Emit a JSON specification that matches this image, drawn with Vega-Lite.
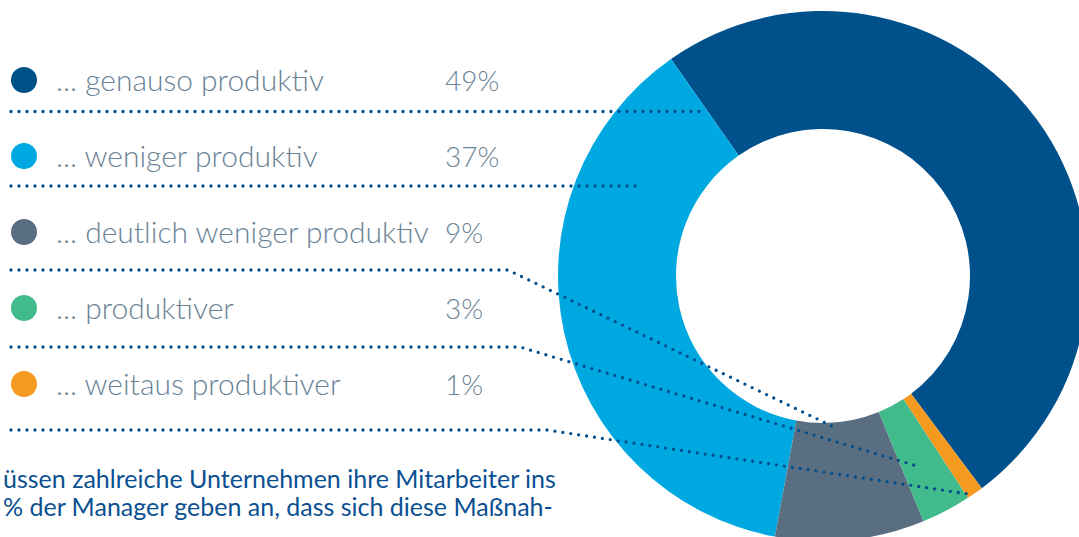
{
  "$schema": "https://vega.github.io/schema/vega-lite/v6.json",
  "width": 1079,
  "height": 537,
  "padding": 0,
  "autosize": {"type": "none"},
  "background": "#ffffff",
  "config": {"view": {"stroke": null}},
  "datasets": {
    "items": [
      {"category": "... genauso produktiv", "value": 49, "pct": "49%", "ord": 1},
      {"category": "... weniger produktiv", "value": 37, "pct": "37%", "ord": 5},
      {"category": "... deutlich weniger produktiv", "value": 9, "pct": "9%", "ord": 4},
      {"category": "... produktiver", "value": 3, "pct": "3%", "ord": 3},
      {"category": "... weitaus produktiver", "value": 1, "pct": "1%", "ord": 2}
    ],
    "leaders": [
      {"line": "a", "step": 0, "x": 11, "y": 111.5},
      {"line": "a", "step": 1, "x": 700, "y": 111.5},
      {"line": "b", "step": 0, "x": 11, "y": 186},
      {"line": "b", "step": 1, "x": 636, "y": 186},
      {"line": "c", "step": 0, "x": 11, "y": 270},
      {"line": "c", "step": 1, "x": 508, "y": 270},
      {"line": "c", "step": 2, "x": 836, "y": 428},
      {"line": "d", "step": 0, "x": 11, "y": 347},
      {"line": "d", "step": 1, "x": 520, "y": 347},
      {"line": "d", "step": 2, "x": 917, "y": 466},
      {"line": "e", "step": 0, "x": 11, "y": 430},
      {"line": "e", "step": 1, "x": 547, "y": 430},
      {"line": "e", "step": 2, "x": 968, "y": 494}
    ],
    "para": [
      {"line": 1, "text": "üssen zahlreiche Unternehmen ihre Mitarbeiter ins"},
      {"line": 2, "text": "% der Manager geben an, dass sich diese Maßnah-"}
    ]
  },
  "resolve": {"scale": {"y": "independent"}},
  "layer": [
    {
      "data": {"name": "items"},
      "mark": {"type": "arc", "radius": 265, "radius2": 147},
      "encoding": {
        "x": {"datum": 823, "type": "quantitative", "scale": {"domain": [0, 1079], "nice": false, "zero": false}, "axis": null},
        "y": {"datum": 276, "type": "quantitative", "scale": {"domain": [0, 537], "nice": false, "zero": false, "reverse": true}, "axis": null},
        "theta": {"field": "value", "type": "quantitative", "stack": true, "scale": {"range": [-0.6109, 5.6723]}},
        "order": {"field": "ord", "type": "quantitative"},
        "color": {
          "field": "category", "type": "nominal", "legend": null,
          "scale": {
            "domain": ["... genauso produktiv", "... weniger produktiv", "... deutlich weniger produktiv", "... produktiver", "... weitaus produktiver"],
            "range": ["#00508C", "#00A8E1", "#5A6E82", "#41BA8C", "#F6991F"]
          }
        }
      }
    },
    {
      "data": {"name": "leaders"},
      "mark": {"type": "line", "color": "#004F8C", "strokeWidth": 3.3, "strokeDash": [0, 8], "strokeCap": "round", "strokeJoin": "round"},
      "encoding": {
        "x": {"field": "x", "type": "quantitative", "scale": {"domain": [0, 1079], "nice": false, "zero": false}, "axis": null},
        "y": {"field": "y", "type": "quantitative", "scale": {"domain": [0, 537], "nice": false, "zero": false, "reverse": true}, "axis": null},
        "detail": {"field": "line", "type": "nominal"},
        "order": {"field": "step", "type": "quantitative"}
      }
    },
    {
      "data": {"name": "items"},
      "mark": {"type": "point", "filled": true, "opacity": 1, "size": 676, "shape": "circle"},
      "encoding": {
        "x": {"datum": 24, "type": "quantitative", "scale": {"domain": [0, 1079], "nice": false, "zero": false}, "axis": null},
        "y": {"field": "category", "type": "nominal", "sort": null, "axis": null,
          "scale": {"type": "point", "padding": 0, "domain": ["... genauso produktiv", "... weniger produktiv", "... deutlich weniger produktiv", "... produktiver", "... weitaus produktiver"], "range": [80, 384]}},
        "color": {"field": "category", "type": "nominal", "legend": null}
      }
    },
    {
      "data": {"name": "items"},
      "mark": {"type": "text", "align": "left", "baseline": "alphabetic", "dy": 10.5, "font": "Lato", "fontWeight": 300, "fontSize": 30, "color": "#6B8396"},
      "encoding": {
        "x": {"datum": 56, "type": "quantitative", "scale": {"domain": [0, 1079], "nice": false, "zero": false}, "axis": null},
        "y": {"field": "category", "type": "nominal", "sort": null, "axis": null,
          "scale": {"type": "point", "padding": 0, "domain": ["... genauso produktiv", "... weniger produktiv", "... deutlich weniger produktiv", "... produktiver", "... weitaus produktiver"], "range": [80, 384]}},
        "text": {"field": "category", "type": "nominal"}
      }
    },
    {
      "data": {"name": "items"},
      "mark": {"type": "text", "align": "left", "baseline": "alphabetic", "dy": 10.5, "font": "Lato", "fontWeight": 300, "fontSize": 28, "color": "#6B8396"},
      "encoding": {
        "x": {"datum": 445, "type": "quantitative", "scale": {"domain": [0, 1079], "nice": false, "zero": false}, "axis": null},
        "y": {"field": "category", "type": "nominal", "sort": null, "axis": null,
          "scale": {"type": "point", "padding": 0, "domain": ["... genauso produktiv", "... weniger produktiv", "... deutlich weniger produktiv", "... produktiver", "... weitaus produktiver"], "range": [80, 384]}},
        "text": {"field": "pct", "type": "nominal"}
      }
    },
    {
      "data": {"name": "para"},
      "mark": {"type": "text", "align": "left", "baseline": "alphabetic", "font": "Lato", "fontSize": 25, "color": "#0B5092"},
      "encoding": {
        "x": {"datum": 3, "type": "quantitative", "scale": {"domain": [0, 1079], "nice": false, "zero": false}, "axis": null},
        "y": {"field": "line", "type": "quantitative", "axis": null,
          "scale": {"domain": [1, 2], "range": [488, 516], "nice": false, "zero": false}},
        "text": {"field": "text", "type": "nominal"}
      }
    }
  ]
}
